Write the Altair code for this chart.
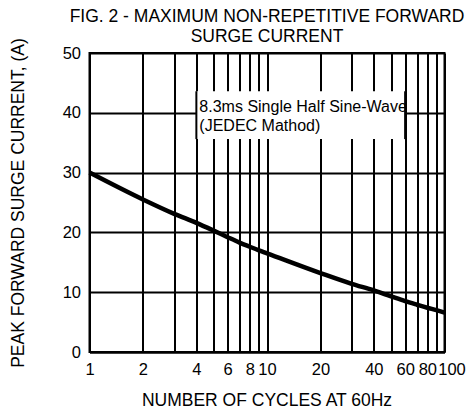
import altair as alt
import pandas as pd

# ---- data ----
cycles = [1, 2, 3, 4, 5, 6, 7, 8, 9, 10, 20, 30, 40, 50, 60, 70, 80, 90, 100]
current = [30, 25.5, 23.1, 21.6, 20.3, 19.2, 18.3, 17.6, 17.0, 16.5,
           13.2, 11.4, 10.3, 9.3, 8.5, 7.9, 7.4, 7.0, 6.6]
x_grid = [1, 2, 3, 4, 5, 6, 7, 8, 9, 10, 20, 30, 40, 50, 60, 70, 80, 90, 100]
x_labels = [1, 2, 4, 6, 8, 10, 20, 40, 60, 80, 100]
y_ticks = [0, 10, 20, 30, 40, 50]
title_lines = ["FIG. 2 - MAXIMUM NON-REPETITIVE FORWARD", "SURGE CURRENT"]
x_title = "NUMBER OF CYCLES AT 60Hz"
y_title = "PEAK FORWARD SURGE CURRENT, (A)"
note_lines = ["8.3ms Single Half Sine-Wave", "(JEDEC Mathod)"]
note_x = [4, 60]          # box spans between these cycle values
note_y = [35.6, 43.6]     # box spans between these current values
note_text_y = 40.2

FONT = "Liberation Sans"

curve_df = pd.DataFrame({"cycles": cycles, "current": current})
box_df = pd.DataFrame({"x": [note_x[0]], "x2": [note_x[1]], "y": [note_y[0]], "y2": [note_y[1]]})
edge_df = pd.DataFrame({"x": note_x, "y": [note_y[0]] * 2, "y2": [note_y[1]] * 2})
text_df = pd.DataFrame({"x": [note_x[0]], "y": [note_text_y], "t": [note_lines]})

xscale = alt.Scale(type="log", domain=[x_grid[0], x_grid[-1]], nice=False)
yscale = alt.Scale(domain=[y_ticks[0], y_ticks[-1]], nice=False)

label_list = ",".join(str(v) for v in x_labels)
xaxis = alt.Axis(
    values=x_grid,
    title=x_title,
    labelExpr=f"indexof([{label_list}], datum.value) >= 0 ? format(datum.value, 'd') : ''",
    labelOverlap=False,
    labelBound=False,
    labelFlush=False,
    labelOffset={"condition": {"test": "datum.value === 100", "value": 7}, "value": 0},
    ticks=False,
    labelPadding=9,
    labelFontSize=16.5,
    labelFont=FONT,
    labelColor="black",
    titleFont=FONT,
    titleFontSize=17.5,
    titleFontWeight="normal",
    titleColor="black",
    titleBaseline="alphabetic",
    titleX=177,
    titleY=53,
    grid=True,
    gridColor="black",
    gridWidth=2,
    gridOpacity=1,
    domainColor="black",
    domainWidth=2,
)
yaxis = alt.Axis(
    values=y_ticks,
    title=y_title,
    ticks=False,
    labelPadding=9,
    labelFontSize=16.5,
    labelFont=FONT,
    labelColor="black",
    labelOverlap=False,
    labelBound=False,
    labelFlush=False,
    titleFont=FONT,
    titleFontSize=17.5,
    titleFontWeight="normal",
    titleColor="black",
    titleBaseline="alphabetic",
    titleAlign="center",
    titleAngle=270,
    titleX=-66,
    titleY=149.5,
    grid=True,
    gridColor="black",
    gridWidth=2,
    gridOpacity=1,
    domainColor="black",
    domainWidth=2,
)

curve = alt.Chart(curve_df).mark_line(
    color="black", strokeWidth=4.5, interpolate="monotone"
).encode(
    x=alt.X("cycles:Q", scale=xscale, axis=xaxis),
    y=alt.Y("current:Q", scale=yscale, axis=yaxis),
)

box = alt.Chart(box_df).mark_rect(color="white", opacity=1).encode(
    x=alt.X("x:Q", scale=xscale),
    x2="x2:Q",
    y=alt.Y("y:Q", scale=yscale),
    y2="y2:Q",
)

edges = alt.Chart(edge_df).mark_rule(color="black", strokeWidth=2).encode(
    x=alt.X("x:Q", scale=xscale),
    y=alt.Y("y:Q", scale=yscale),
    y2="y2:Q",
)

note = alt.Chart(text_df).mark_text(
    align="left", baseline="alphabetic", dx=3, font=FONT, fontSize=16,
    color="black", lineHeight=19.5,
).encode(
    x=alt.X("x:Q", scale=xscale),
    y=alt.Y("y:Q", scale=yscale),
    text="t",
)

chart = alt.layer(box, edges, curve, note).properties(
    width=355,
    height=299,
    padding={"left": 81.5, "top": 45, "right": 23.5, "bottom": 58},
    autosize=alt.AutoSizeParams(type="none"),
    title=alt.TitleParams(
        text=title_lines,
        font=FONT,
        fontSize=17.5,
        fontWeight="normal",
        color="black",
        anchor="middle",
        frame="group",
        baseline="alphabetic",
        lineHeight=20,
        offset=8,
        dy=30,
    ),
).configure_view(stroke="black", strokeWidth=2)

chart.save("out.html", embed_options={"renderer": "svg", "actions": False})
